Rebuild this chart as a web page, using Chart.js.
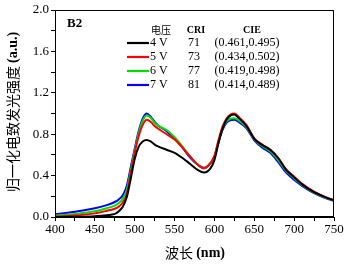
<!DOCTYPE html>
<html><head><meta charset="utf-8">
<script src="https://cdn.jsdelivr.net/npm/chart.js@4/dist/chart.umd.min.js"></script>
<style>html,body{margin:0;padding:0;background:#fff}#wrap{width:348px;height:264px}</style>
</head><body><div id="wrap"><canvas id="c" width="348" height="264"></canvas></div>
<script>
const wavelengths = [400,425,450,465,475,480,485,490,495,500,505,510,515,520,525,530,540,550,560,570,580,587,595,600,605,610,615,620,625,630,640,650,660,670,680,690,700,710,725,740,750];
const v4 = [0,.002,.008,.018,.03,.055,.10,.19,.37,.56,.68,.73,.745,.73,.70,.68,.65,.62,.57,.51,.45,.43,.47,.55,.71,.85,.94,.98,.99,.96,.88,.755,.695,.65,.57,.455,.385,.315,.24,.19,.16];
const v5 = [.005,.015,.035,.06,.08,.10,.14,.22,.42,.62,.78,.89,.94,.92,.88,.85,.80,.75,.67,.58,.50,.47,.52,.59,.74,.87,.95,.99,1.0,.97,.89,.76,.70,.65,.57,.46,.39,.32,.245,.19,.165];
const v6 = [.015,.03,.055,.085,.11,.135,.175,.26,.45,.64,.81,.93,.98,.96,.91,.88,.84,.77,.68,.58,.50,.47,.52,.585,.73,.855,.925,.95,.955,.935,.87,.75,.685,.635,.55,.445,.375,.31,.237,.185,.16];
const v7 = [.026,.05,.085,.115,.145,.17,.21,.30,.48,.66,.83,.95,1.0,.97,.92,.88,.83,.76,.67,.57,.50,.475,.52,.58,.72,.84,.91,.935,.94,.92,.86,.74,.67,.62,.53,.43,.36,.30,.23,.18,.155];
const voltages = ['4 V','5 V','6 V','7 V'];
const cri = ['71','73','77','81'];
const cie = ['(0.461,0.495)','(0.434,0.502)','(0.419,0.498)','(0.414,0.489)'];
const colors = ['#000000','#ff0000','#00dd00','#0000ff'];
const series = [v4,v5,v6,v7];
const xTickLabels = [400,450,500,550,600,650,700,750];
const yTickLabels = [0.0,0.4,0.8,1.2,1.6,2.0];

const SERIF = '"Liberation Serif", "Times New Roman", serif';
const CJK = '"Noto Sans CJK SC", sans-serif';

const overlay = {
  id:'overlay',
  afterDraw(chart){
    const ctx = chart.ctx, a = chart.chartArea;
    ctx.save();
    ctx.strokeStyle='#000'; ctx.lineWidth=1;
    ctx.strokeRect(a.left+0.5, a.top+0.5, a.right-a.left-1, a.bottom-a.top-1);
    ctx.fillStyle='#000'; ctx.textBaseline='middle';
    ctx.font='bold 13px '+SERIF; ctx.textAlign='left';
    ctx.fillText('B2', 67, 24);
    ctx.font='10px '+CJK; ctx.textAlign='center';
    ctx.fillText('电压', 161, 30);
    ctx.font='bold 10px '+SERIF;
    ctx.fillText('CRI', 196, 30);
    ctx.fillText('CIE', 252, 30);
    const rowY=[43,57,71,85];
    for(let i=0;i<4;i++){
      ctx.strokeStyle=colors[i]; ctx.lineWidth=2.2;
      ctx.beginPath(); ctx.moveTo(127,rowY[i]); ctx.lineTo(149,rowY[i]); ctx.stroke();
      ctx.fillStyle='#000'; ctx.font='12px '+SERIF;
      ctx.textAlign='left'; ctx.fillText(voltages[i],150,rowY[i]);
      ctx.textAlign='center'; ctx.fillText(cri[i],194,rowY[i]);
      ctx.fillText(cie[i],247,rowY[i]);
    }
    ctx.fillStyle='#000'; ctx.textBaseline='middle';
    const t1='波长 ', t2='(nm)';
    ctx.font='14px '+CJK; const w1=ctx.measureText(t1).width;
    ctx.font='bold 14px '+SERIF; const w2=ctx.measureText(t2).width;
    let sx=195-(w1+w2)/2;
    ctx.textAlign='left';
    ctx.font='14px '+CJK; ctx.fillText(t1,sx,253);
    ctx.font='bold 14px '+SERIF; ctx.fillText(t2,sx+w1,253);
    ctx.translate(13,112); ctx.rotate(-Math.PI/2);
    const y1='归一化电致发光强度 ', y2='(a.u.)';
    ctx.font='14px '+CJK; const yw1=ctx.measureText(y1).width;
    ctx.font='bold 14px '+SERIF; const yw2=ctx.measureText(y2).width;
    let sy=-(yw1+yw2)/2;
    ctx.font='14px '+CJK; ctx.fillText(y1,sy,0);
    ctx.font='bold 14px '+SERIF; ctx.fillText(y2,sy+yw1,0);
    ctx.restore();
  }
};

new Chart(document.getElementById('c'),{
  type:'line',
  data:{datasets: series.map((s,i)=>({
    label:voltages[i],
    data: wavelengths.map((w,j)=>({x:w,y:s[j]})),
    borderColor:colors[i], borderWidth:2, pointRadius:0, tension:0, cubicInterpolationMode:'monotone', fill:false
  }))},
  options:{
    responsive:false, animation:false, devicePixelRatio:1,
    layout:{padding:{top:10,right:14,left:0,bottom:0}},
    plugins:{legend:{display:false},tooltip:{enabled:false}},
    scales:{
      x:{type:'linear',min:400,max:750,
        afterFit(s){s.height=47;},
        border:{display:true,color:'#000',width:1},
        grid:{display:true,drawOnChartArea:false,tickLength:4,color:'#000'},
        ticks:{stepSize:25,autoSkip:false,maxRotation:0,color:'#000',font:{family:SERIF,size:13},padding:1,
          callback:(v)=> xTickLabels.includes(v)? String(v):''}
      },
      y:{type:'linear',min:0,max:2.0,
        afterFit(s){s.width=55;},
        border:{display:true,color:'#000',width:1},
        grid:{display:true,drawOnChartArea:false,tickLength:4,color:'#000'},
        ticks:{stepSize:0.2,autoSkip:false,color:'#000',font:{family:SERIF,size:13},padding:2,
          callback:(v)=>{const r=Math.round(v*10)/10; return yTickLabels.some(t=>Math.abs(t-r)<1e-6)? r.toFixed(1):'';}}
      }
    }
  },
  plugins:[overlay]
});
</script></body></html>
